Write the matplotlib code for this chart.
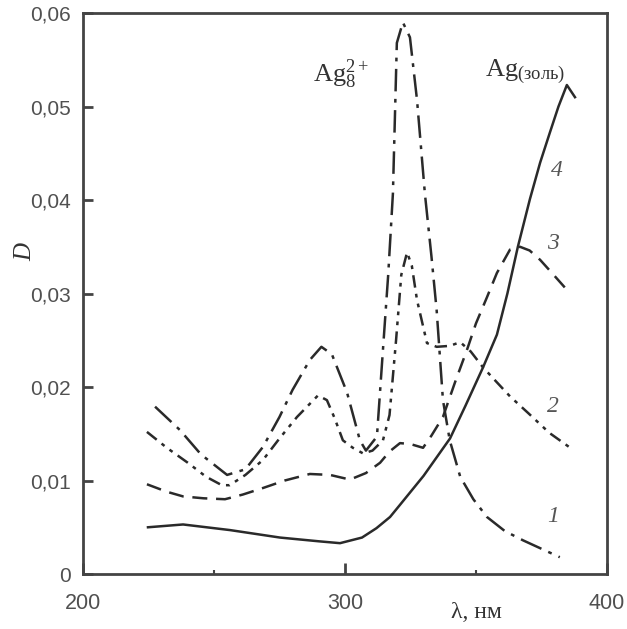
import numpy as np
import matplotlib
matplotlib.use("Agg")
import matplotlib.pyplot as plt

plt.rcParams['mathtext.fontset'] = 'custom'
plt.rcParams['mathtext.rm'] = 'Liberation Serif'
plt.rcParams['mathtext.it'] = 'Liberation Serif:italic'

# curve 1 (dash-dot, Ag8 2+ peak)
x1 = [227.5, 237, 245, 255, 262, 268.7, 275, 280, 286.6, 291, 295, 300.8,
      305.7, 308, 312.2, 314.5, 316.5, 318.3, 319.8, 322.1, 324.8, 327.5,
      330.5, 333, 335, 337.4, 340, 344, 349, 354.2, 361, 368, 375, 382]
y1 = [0.0179, 0.0154, 0.0128, 0.0106, 0.0112, 0.0136, 0.0168, 0.0197,
      0.0229, 0.0243, 0.0235, 0.0194, 0.0143, 0.0132, 0.0147, 0.024, 0.032,
      0.0407, 0.0568, 0.0590, 0.0574, 0.0507, 0.0407, 0.034, 0.0282, 0.0186,
      0.0143, 0.0104, 0.0080, 0.0061, 0.0046, 0.0036, 0.0027, 0.0018]

# curve 2 (dash-dot-dot)
x2 = [224.4, 232, 240, 247, 253, 256, 262, 268.7, 275, 281.7, 289.7, 293.1,
      296, 299.2, 303, 306.9, 310.5, 314.5, 317, 319.5, 321.5, 323.7, 325.5,
      327.5, 331.3, 335, 340, 344, 348, 352.7, 358, 363, 370, 378, 387]
y2 = [0.0152, 0.0135, 0.0119, 0.0104, 0.0095, 0.0095, 0.0106, 0.0122,
      0.0145, 0.0168, 0.0191, 0.0186, 0.0167, 0.0143, 0.0135, 0.0129, 0.0132,
      0.0143, 0.0170, 0.0250, 0.0320, 0.0344, 0.0330, 0.0293, 0.0247, 0.0243,
      0.0244, 0.0248, 0.0238, 0.0221, 0.0205, 0.0190, 0.0172, 0.0151, 0.0133]

# curve 3 (dashed)
x3 = [224.4, 232, 238.2, 246, 254.2, 261, 268.7, 277, 286.6, 294.3, 301.9,
      308, 313.4, 317, 321, 325, 329.8, 333, 337.4, 342, 346.6, 350, 354.2,
      358, 363, 366.8, 370.5, 374.5, 379, 384.7]
y3 = [0.0096, 0.0088, 0.0083, 0.0081, 0.0080, 0.0085, 0.0092, 0.0100,
      0.0107, 0.0106, 0.0101, 0.0108, 0.0119, 0.0131, 0.0140, 0.0139, 0.0135,
      0.0148, 0.0168, 0.0205, 0.0240, 0.0268, 0.0296, 0.0322, 0.0347, 0.0350,
      0.0346, 0.0336, 0.0322, 0.0304]

# curve 4 (solid, Ag sol)
x4 = [224.8, 238.2, 256.1, 275.2, 290, 298.1, 306.5, 312, 317.2, 321, 330,
      340.1, 346, 352.7, 358, 362, 366, 370.6, 374.5, 378.2, 381.5, 384.7,
      387.8]
y4 = [0.0050, 0.0053, 0.0047, 0.0039, 0.0035, 0.0033, 0.0039, 0.0049,
      0.0061, 0.0074, 0.0105, 0.0145, 0.0180, 0.0221, 0.0256, 0.0300, 0.0350,
      0.0401, 0.0440, 0.0472, 0.0500, 0.0523, 0.0510]

ytick_vals = [0, 0.01, 0.02, 0.03, 0.04, 0.05, 0.06]
ytick_labels = ['0', '0,01', '0,02', '0,03', '0,04', '0,05', '0,06']
xtick_vals = [200, 300, 400]
xtick_labels = ['200', '300', '400']
curve_labels = ['1', '2', '3', '4']
label_x = [379.4, 379.4, 379.4, 380.9]
label_y = [0.0050, 0.0168, 0.0342, 0.0420]

lc = '#2a2a2a'

fig = plt.figure(figsize=(6.27, 6.29), dpi=100)
ax = fig.add_axes([0.1324, 0.0874, 0.8356, 0.8919])

ax.plot(x1, y1, color=lc, lw=1.8, dashes=[9, 3, 1.5, 3])
ax.plot(x2, y2, color=lc, lw=1.8, dashes=[5, 2.5, 1.5, 2.5, 1.5, 2.5])
ax.plot(x3, y3, color=lc, lw=1.8, dashes=[6, 3.5])
ax.plot(x4, y4, color=lc, lw=1.8)

ax.set_xlim(200, 400)
ax.set_ylim(0, 0.06)

for s in ax.spines.values():
    s.set_color('#444444')
    s.set_linewidth(2)

ax.set_yticks(ytick_vals)
ax.set_yticklabels(ytick_labels)
ax.set_xticks(xtick_vals)
ax.set_xticklabels(xtick_labels)
ax.set_xticks([250, 350], minor=True)
ax.tick_params(axis='y', direction='in', length=7, width=2, color='#444444',
               pad=9, labelsize=15, labelcolor='#505050')
ax.tick_params(axis='x', which='major', direction='in', length=8, width=2,
               color='#444444', pad=14, labelsize=15.5, labelcolor='#505050')
ax.tick_params(axis='x', which='minor', direction='in', length=3, width=1.5,
               color='#444444')
for lab in ax.get_xticklabels() + ax.get_yticklabels():
    lab.set_family('Liberation Sans')

fig.text(0.04, 0.60, 'D', family='Liberation Serif', style='italic',
         fontsize=18, color='#333333', rotation=90, ha='center', va='center')
fig.text(0.76, 0.027, 'λ, нм', family='Liberation Serif', fontsize=17,
         color='#333333', ha='center', va='center')

for t, lx, ly in zip(curve_labels, label_x, label_y):
    ax.text(lx, ly, t, family='Liberation Serif', style='italic', fontsize=17,
            color='#555555', ha='center', va='bottom')

ax.text(287.8, 0.0526, r'$\mathrm{Ag}_8^{2+}$', fontsize=19, color='#333333',
        ha='left', va='baseline')
ax.text(353.4, 0.0532, r'$\mathrm{Ag}_{\mathrm{(золь)}}$', fontsize=19,
        color='#333333', ha='left', va='baseline')

fig.savefig('out.png', dpi=100)
